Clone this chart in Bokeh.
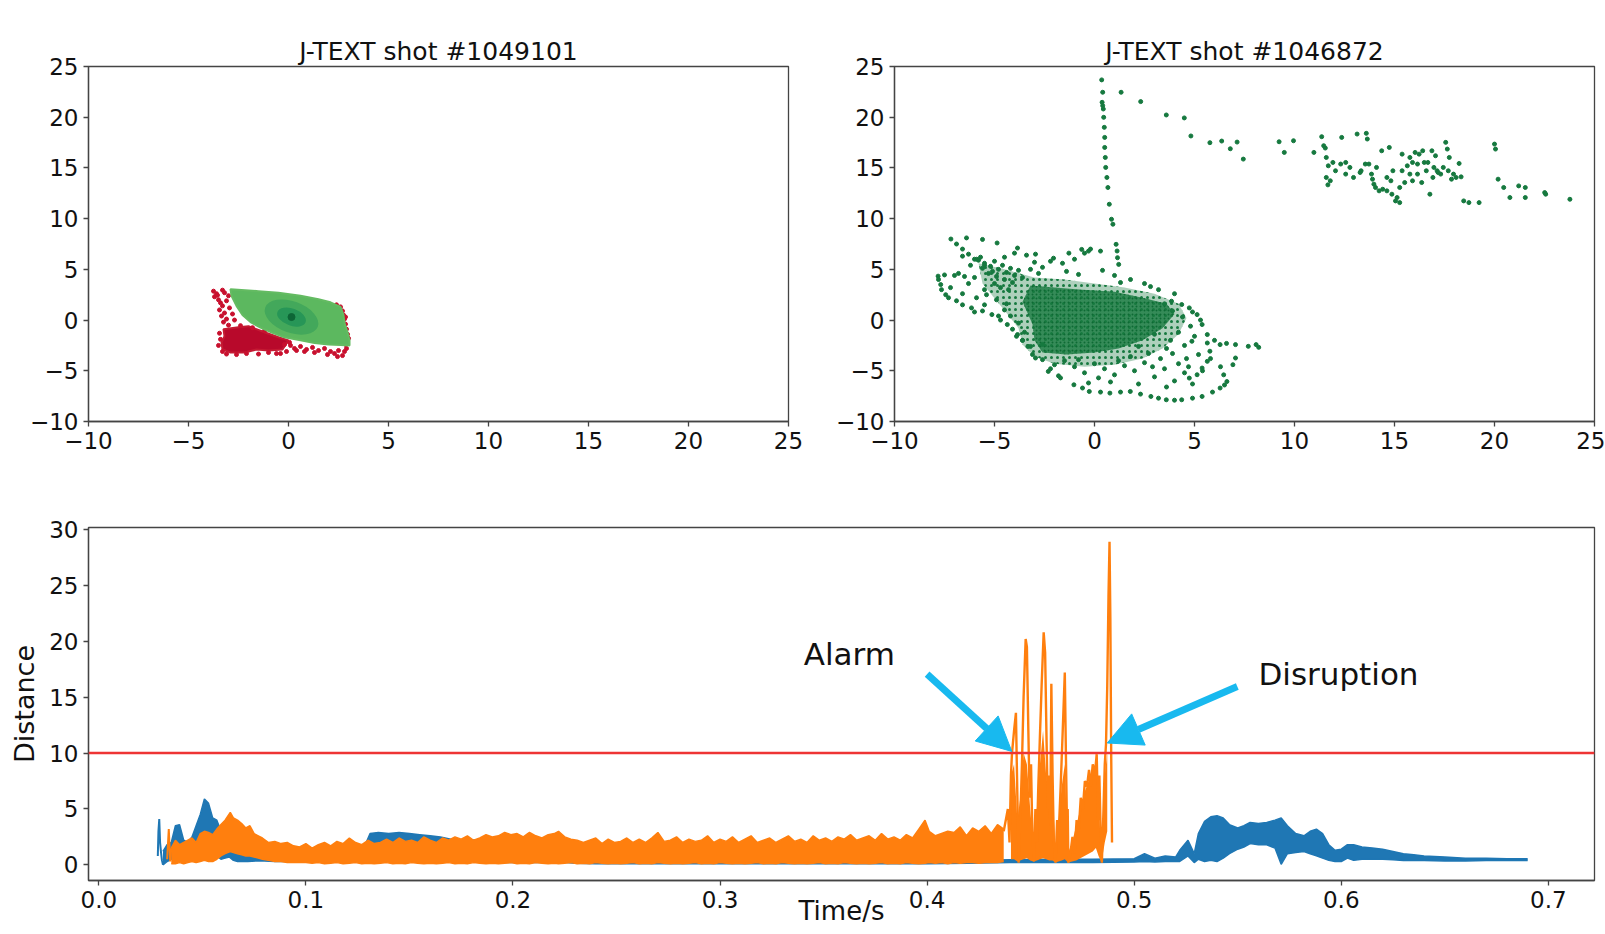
from bokeh.plotting import figure
from bokeh.layouts import column, row
from bokeh.models import Range1d, Label, Arrow, NormalHead, Span, NumeralTickFormatter
from bokeh.embed import file_html
from bokeh.resources import INLINE

FONT = "DejaVu Sans"
AX = "#444444"
BLUE = "#1f77b4"
ORANGE = "#ff7f0e"
RED = "#ee3434"
CYAN = "#18b9ef"
DGREEN = "#16793f"

# ---------------- top-left: shot #1049101 ----------------
red_blob_x = [-3.25, -2.5, -2.0, -1.2, -0.5, 0.0, -0.3, -1.0, -1.6, -2.2, -2.9, -3.3, -3.35, -3.2]
red_blob_y = [-0.9, -0.7, -0.6, -1.2, -1.7, -2.0, -2.9, -3.0, -2.9, -3.2, -3.2, -2.9, -2.2, -1.6]
red_pts_x = [-3.75, -3.6, -3.7, -3.5, -3.4, -3.3, -3.45, -3.2, -3.35, -3.1, -3.25, -3.0, -3.2, -3.3,
             -3.55, -3.0, -3.1, -2.95, -2.8, -2.7,
             0.1, 0.3, 0.6, 0.9, 1.2, 1.5, 1.8, 2.1, 2.3, 2.5, 2.7, 2.8, 2.9, 2.45, 1.95, 1.3, 0.8, 0.4, 2.85, 2.95,
             2.4, 2.6, 2.7, 2.75, 2.8, 2.85, 2.9, 2.95, 3.0, 2.5, 2.85, -0.4, -0.1,
             -3.45, -3.4, -3.5, -3.3, -3.1, -2.6, -2.1, -1.5, -1.0, -0.6, -0.2, -2.4, -1.8, -1.2, 0.05]
red_pts_y = [2.85, 2.6, 2.3, 2.0, 1.7, 1.4, 1.0, 0.7, 0.4, 0.1, -0.2, -0.5, 2.7, 2.95,
             2.45, 2.4, 1.9, 1.2, 0.6, 0.0,
             -2.5, -2.8, -2.6, -2.9, -2.7, -3.0, -2.8, -3.1, -3.3, -3.0, -3.5, -3.1, -2.8, -3.6, -3.4, -3.2, -3.1, -3.0, -2.4, -2.0,
             1.5, 1.3, 0.9, 0.5, 0.1, -0.4, -0.9, -1.4, -1.8, 1.1, 0.3, -3.3, -3.1,
             -1.3, -1.9, -2.5, -3.1, -3.35, -3.4, -3.3, -3.35, -3.2, -3.3, -2.4, -0.55, -0.75, -1.05, -2.2]
green_x = [-2.9, -1.5, -0.5, 0.6, 1.5, 2.1, 2.6, 2.75, 2.8, 2.95, 3.05, 3.05, 2.6, 2.0, 1.3, 0.6,
           -0.2, -0.8, -1.4, -1.9, -2.3, -2.6, -2.85]
green_y = [3.05, 2.85, 2.7, 2.4, 2.05, 1.75, 1.3, 0.5, -0.3, -1.2, -2.0, -2.5, -2.45, -2.4, -2.25, -2.0,
           -1.7, -1.25, -0.75, -0.2, 0.5, 1.4, 2.4]
core_c = [0.15, 0.3]

# ---------------- top-right: shot #1046872 ----------------
spike_x = [0.36, 0.41, 0.38, 0.41, 0.44, 0.46, 0.49, 0.51, 0.51, 0.54, 0.56, 0.62, 0.67, 0.74, 0.85, 0.92, 1.08, 1.13, 1.15, 1.21]
spike_y = [23.68, 22.46, 21.47, 21.14, 20.81, 19.99, 19.00, 18.01, 17.02, 16.03, 15.05, 14.06, 13.07, 11.42, 9.94, 9.45, 7.47, 6.81, 6.15, 5.49]
path_x = [1.33, 2.31, 3.59, 4.49, 4.82, 5.77, 6.36, 6.79, 7.13, 7.44, 9.23, 9.49, 9.95]
path_y = [22.46, 21.54, 20.22, 19.93, 18.15, 17.49, 17.65, 16.89, 17.55, 15.87, 17.58, 16.53, 17.68]
far_x = [10.97, 11.36, 11.46, 11.54, 11.59, 11.69, 11.59, 11.67, 11.79, 11.92, 12.05, 12.36, 12.56, 12.77, 12.95,
         13.13, 13.28, 13.33, 13.59, 13.64, 13.72, 13.85, 13.97, 14.05, 14.23, 14.36, 14.41, 14.62, 14.74, 14.82,
         14.92, 15.05, 15.13, 15.26, 15.38, 15.51, 15.64, 15.77, 15.90, 16.03, 16.15, 16.23, 16.36, 16.49, 16.59,
         16.67, 16.77, 16.87, 16.97, 17.13, 17.18, 17.44, 17.56, 17.64, 17.74, 17.85, 17.95, 18.08, 18.23, 18.33,
         18.46, 18.72, 19.23, 20.00, 20.05, 20.18, 20.46, 20.77, 21.21, 21.54, 21.54, 22.51, 22.56, 23.77, 16.92,
         17.31, 15.38, 15.77, 14.62, 14.10, 12.56, 12.31, 13.54, 14.87, 13.90, 16.15, 16.41, 17.69, 17.05, 15.90, 15.26]
far_y = [16.53, 18.08, 17.19, 16.96, 16.03, 15.21, 14.06, 13.33, 13.73, 15.54, 14.72, 18.01, 15.54, 15.05, 14.06,
         18.34, 14.55, 14.72, 18.41, 17.85, 15.38, 14.39, 13.40, 13.07, 12.74, 16.69, 12.90, 12.74, 17.02, 13.73,
         14.72, 11.75, 12.08, 11.58, 16.36, 13.56, 15.21, 16.03, 15.54, 16.53, 15.38, 16.36, 13.56, 15.54, 14.72,
         15.54, 12.41, 16.69, 15.05, 14.72, 14.55, 15.05, 17.52, 16.86, 16.03, 13.89, 14.39, 14.06, 15.44, 14.12,
         11.75, 11.58, 11.58, 17.35, 16.86, 13.89, 13.07, 12.08, 13.23, 13.07, 12.08, 12.57, 12.41, 11.91, 14.06,
         14.39, 14.72, 14.39, 14.06, 15.05, 14.39, 15.38, 15.38, 12.41, 13.89, 14.39, 16.69, 14.72, 16.20, 13.73, 13.07]
loop_x = [-7.82, -7.5, -7.0, -6.5, -6.0, -7.69, -7.44, -6.9, -6.15, -5.13, -4.36, -3.85, -3.33, -2.95,
          -7.18, -6.9, -6.6, -6.3, -5.9, -5.5, -5.1, -6.4, -5.6, -4.87, -3.85, -2.95, -2.05, -1.28, -0.64, -0.3,
          -2.31, -1.03, -0.26, 0.77, 1.79, 2.82, 3.59, 4.36, 5.38, 6.28, 6.62, 6.46, 6.92, 7.05,
          4.87, 5.64, 6.28, 7.05, 7.69, 8.08, 8.21,
          3.85, 4.36, 4.74, 5.13, 5.38, 5.64, 5.77, 5.64, 5.38, 5.13, 4.74,
          -7.8, -7.65, -7.3, -6.6, -5.6, -4.7, -4.1, -3.6, -1.7, -0.6, 0.3, 1.3, 2.3, 3.2, 4.0, 4.9, 5.9, 6.5]
loop_y = [4.33, 4.45, 4.4, 4.3, 4.2, 3.5, 2.5, 1.9, 1.2, 0.54, -0.44, -1.43, -2.6, -3.74,
          7.99, 7.5, 7.0, 6.5, 6.0, 5.4, 4.8, 8.1, 7.95, 7.6, 7.1, 6.5, 6.1, 6.6, 6.97, 6.8,
          -5.06, -6.38, -7.04, -7.2, -7.04, -7.53, -7.86, -7.86, -7.53, -6.7, -6.06, -5.4, -4.4, -3.74,
          -2.09, -2.26, -2.42, -2.42, -2.59, -2.42, -2.69,
          1.86, 1.53, 1.2, 0.54, -0.44, -1.43, -3.07, -4.07, -4.73, -5.39, -5.72,
          4.0, 3.0, 2.2, 1.5, 0.9, 0.0, -0.9, -2.0, -5.7, -6.7, -7.1, -7.1, -7.3, -7.7, -7.9, -7.7, -7.1, -6.4]
mid_x = [-5.8, -5.5, -5.2, -5.0, -4.8, -4.6, -4.4, -4.2, -4.0, -3.8, -3.6, -5.6, -5.3, -4.9, -4.5, -4.1, -5.0,
         -4.7, -4.3, -5.5, -5.9, -5.4, -4.9, -4.4, -6.2, -6.0, -5.7, -4.5, -4.0, -3.4, -3.0, -2.6, -2.2, -1.6,
         -1.0, -0.5, -0.2, 0.3, -1.4, -0.8, -2.8, -3.2, -6.6, -6.8, -6.3, -7.2, -6.6,
         -2.6, -2.0, -1.5, -1.0, -0.5, 0.0, 0.5, 1.0, 1.5, 2.0, 2.5, 3.0, 3.5, 4.0, 4.5, 4.2, 3.3, 2.7, 1.8,
         -0.8, -1.8, -0.3, 0.8, 2.2, 3.6, 4.9, 5.4, 1.2, -2.2, 0.2, 2.9, 3.9,
         3.5, 3.9, 4.4, 4.8, 4.2, 3.8, 4.5, 5.0, 5.2, 4.6, 3.6, 4.9, 5.3, 4.0, 3.2, 2.5, 1.8, 1.0, 0.4, 2.8,
         1.3, 3.0, 2.2, 4.7, 6.0, 6.6, 5.8, 6.3,
         -3.5, -3.8, -4.2, -3.6, -3.2, -4.5, -4.8, -5.5, -6.0, -3.9, -2.6, -3.1]
mid_y = [5.9, 5.6, 5.3, 5.8, 5.0, 5.4, 4.7, 5.1, 4.4, 4.9, 4.2, 5.1, 4.6, 4.3, 4.0, 3.7, 3.6,
         3.2, 3.0, 3.0, 2.2, 2.5, 2.0, 1.6, 5.4, 6.0, 6.2, 6.2, 6.6, 6.4, 5.7, 5.2, 5.8, 5.6,
         6.0, 6.6, 7.0, 6.8, 4.8, 4.5, 4.6, 5.0, 6.3, 4.6, 3.6, 3.2, 2.6,
         -3.9, -4.4, -4.0, -4.6, -5.2, -4.3, -4.8, -5.4, -4.5, -5.0, -4.2, -5.6, -4.8, -6.0, -5.2, -4.3, -3.8, -3.3, -3.6,
         -3.9, -5.5, -6.2, -6.1, -6.3, -6.6, -6.3, -5.0, -4.0, -4.8, -5.7, -4.6, -3.3,
         1.6, 0.9, 0.3, -0.6, -1.2, -2.0, -2.5, -1.6, -3.4, -3.8, -2.8, 0.8, 0.0, 2.6, 3.0, 3.6, 4.0, 4.4, 4.9, 3.3,
         3.7, -1.4, -2.6, -4.6, -2.0, -2.3, -3.8, -4.6,
         -1.2, -0.3, 0.4, -2.0, -2.6, 1.0, 0.4, 1.5, 0.8, -1.6, -2.4, -3.4]
core_out_x = [-5.8, -4.5, -3.0, -1.5, 0.0, 1.5, 3.0, 4.2, 4.6, 4.2, 3.4, 2.4, 1.0, -0.5, -2.0, -3.0, -3.6, -3.8, -4.6, -5.6]
core_out_y = [5.6, 5.0, 4.2, 4.0, 3.6, 3.2, 2.6, 1.6, 0.2, -1.4, -2.8, -3.8, -4.4, -4.6, -4.3, -3.6, -2.4, -0.8, 1.2, 3.6]
core_in_x = [-3.2, -2.0, -0.6, 1.0, 2.4, 3.6, 4.0, 3.4, 2.4, 1.2, 0.0, -1.4, -2.6, -3.0, -3.1, -3.6]
core_in_y = [3.4, 3.2, 3.0, 2.8, 2.2, 1.6, 0.6, -0.8, -2.0, -2.8, -3.2, -3.4, -3.2, -2.0, -0.4, 1.8]

# ---------------- bottom: distance vs time ----------------
blue_start_t = [0.0285, 0.0288, 0.0292, 0.0296, 0.0300, 0.0305, 0.0310]
blue_start_y = [0.8, 3.0, 4.1, 2.0, 1.2, 0.4, 0.0]
blue_t = [0.031, 0.033, 0.035, 0.037, 0.039, 0.041, 0.043, 0.045, 0.047, 0.049,
          0.051, 0.053, 0.055, 0.057, 0.059, 0.061, 0.063, 0.065, 0.067, 0.069,
          0.072, 0.076, 0.080, 0.085, 0.090, 0.095, 0.100, 0.105, 0.110, 0.115,
          0.120, 0.125, 0.128, 0.131, 0.135, 0.140, 0.145, 0.150, 0.155, 0.160,
          0.165, 0.170, 0.175, 0.180, 0.185, 0.190, 0.194, 0.197, 0.200, 0.205,
          0.210, 0.215, 0.220, 0.223, 0.226, 0.230, 0.240, 0.260, 0.280, 0.300,
          0.320, 0.340, 0.360, 0.380, 0.400, 0.420, 0.440, 0.460, 0.480, 0.500,
          0.505, 0.510, 0.515, 0.520, 0.522, 0.526, 0.529, 0.531, 0.534, 0.537,
          0.540, 0.543, 0.546, 0.550, 0.553, 0.556, 0.560, 0.564, 0.568, 0.571,
          0.574, 0.578, 0.582, 0.585, 0.588, 0.591, 0.594, 0.597, 0.600, 0.603,
          0.606, 0.610, 0.615, 0.620, 0.625, 0.630, 0.635, 0.640, 0.650, 0.660,
          0.670, 0.680, 0.690]
blue_hi = [1.2, 1.8, 2.0, 3.5, 3.6, 2.2, 2.0, 2.5, 3.5, 4.5,
           5.9, 5.5, 4.2, 4.0, 3.0, 2.2, 1.6, 1.5, 1.9, 1.4,
           1.0, 0.8, 0.75, 0.7, 0.65, 0.7, 0.6, 0.65, 0.6, 0.6,
           0.6, 0.7, 1.5, 2.8, 2.9, 2.8, 2.9, 2.8, 2.7, 2.6,
           2.5, 2.3, 2.1, 2.2, 2.3, 2.2, 1.5, 1.0, 0.9, 1.3,
           1.0, 0.8, 1.4, 1.7, 1.0, 0.6, 0.5, 0.5, 0.45, 0.45,
           0.45, 0.4, 0.4, 0.45, 0.45, 0.4, 0.45, 0.5, 0.5, 0.55,
           1.0, 0.6, 0.8, 0.7, 1.3, 2.2, 1.0, 2.8, 3.9, 4.3,
           4.4, 4.2, 3.6, 3.3, 3.5, 3.8, 3.7, 3.8, 4.0, 4.2,
           3.5, 2.8, 2.6, 3.0, 3.2, 2.8, 1.8, 1.3, 1.4, 1.8,
           1.8, 1.6, 1.5, 1.4, 1.2, 1.0, 0.9, 0.8, 0.7, 0.6,
           0.6, 0.55, 0.55]
blue_lo = [0.0, 0.3, 0.5, 0.8, 1.0, 0.8, 0.9, 1.0, 1.2, 1.4,
           1.5, 1.4, 1.0, 0.8, 0.5, 0.6, 0.7, 0.4, 0.3, 0.3,
           0.3, 0.35, 0.35, 0.3, 0.3, 0.3, 0.3, 0.3, 0.3, 0.3,
           0.3, 0.3, 0.5, 1.0, 1.2, 1.2, 1.1, 1.1, 1.0, 1.0,
           1.0, 0.9, 0.9, 0.8, 0.8, 0.7, 0.4, 0.2, 0.2, 0.2,
           0.2, 0.2, 0.2, 0.3, 0.2, 0.15, 0.1, 0.1, 0.1, 0.1,
           0.1, 0.1, 0.1, 0.1, 0.1, 0.15, 0.2, 0.2, 0.2, 0.25,
           0.3, 0.25, 0.3, 0.3, 0.3, 0.8, 0.2, 0.5, 0.3, 0.4,
           0.3, 0.6, 1.0, 1.4, 1.6, 1.9, 1.8, 1.8, 1.5, 0.05,
           1.0, 1.1, 1.2, 1.0, 0.8, 0.6, 0.4, 0.3, 0.3, 0.6,
           0.4, 0.5, 0.5, 0.5, 0.45, 0.4, 0.4, 0.4, 0.35, 0.35,
           0.4, 0.4, 0.4]

orange_start_t = [0.0330, 0.0338, 0.0345, 0.0350]
orange_start_y = [0.5, 3.2, 0.3, 1.5]
orange_t = [0.035, 0.037, 0.039, 0.041, 0.043, 0.045, 0.047, 0.049, 0.051, 0.053,
            0.055, 0.057, 0.059, 0.061, 0.0635, 0.065, 0.067, 0.069, 0.071, 0.073,
            0.075, 0.077, 0.079, 0.082, 0.085, 0.088, 0.091, 0.094, 0.097, 0.100,
            0.103, 0.106, 0.109, 0.112, 0.115, 0.118, 0.121, 0.124, 0.127, 0.130,
            0.133, 0.136, 0.139, 0.142, 0.145, 0.148, 0.151, 0.154, 0.157, 0.160,
            0.163, 0.166, 0.169, 0.172, 0.175, 0.178, 0.181, 0.184, 0.187, 0.190,
            0.193, 0.196, 0.199, 0.202, 0.205, 0.208, 0.211, 0.214, 0.217, 0.220,
            0.222, 0.225, 0.228, 0.231, 0.234, 0.237, 0.240, 0.243, 0.246, 0.249,
            0.252, 0.255, 0.258, 0.261, 0.264, 0.267, 0.270, 0.273, 0.276, 0.279,
            0.282, 0.285, 0.288, 0.291, 0.294, 0.297, 0.300, 0.303, 0.306, 0.309,
            0.312, 0.315, 0.318, 0.321, 0.324, 0.327, 0.330, 0.333, 0.336, 0.339,
            0.342, 0.345, 0.348, 0.351, 0.354, 0.357, 0.360, 0.363, 0.366, 0.369,
            0.372, 0.375, 0.378, 0.381, 0.384, 0.387, 0.390, 0.393, 0.396, 0.399,
            0.401, 0.404, 0.407, 0.410, 0.413, 0.416, 0.419, 0.422, 0.425, 0.428,
            0.431, 0.434, 0.437]
orange_hi = [1.5, 2.2, 1.8, 2.0, 2.2, 2.4, 2.0, 2.8, 3.0, 2.9,
             2.7, 3.2, 3.6, 4.0, 4.7, 4.2, 4.0, 3.7, 3.3, 3.5,
             2.8, 2.6, 2.4, 2.0, 2.1, 1.9, 2.0, 1.7, 1.6, 1.9,
             1.5, 1.8, 2.0, 1.7, 2.1, 1.9, 2.4, 2.0, 1.8, 2.2,
             1.9, 2.0, 2.3, 2.0, 2.4, 2.1, 2.2, 2.0, 2.5, 2.2,
             2.0, 2.4, 2.2, 2.5, 2.3, 2.6, 2.2, 2.4, 2.7, 2.5,
             2.6, 2.9, 2.7, 2.8, 2.5, 2.9, 2.6, 2.4, 2.7, 2.8,
             3.0, 2.5, 2.3, 2.2, 2.0, 2.2, 2.4, 1.9, 2.3, 2.0,
             2.1, 2.4, 2.0, 2.3, 2.0, 2.4, 2.9, 2.1, 2.2, 2.5,
             2.0, 2.3, 2.1, 2.2, 2.6, 2.0, 2.3, 2.1, 2.5, 2.0,
             2.3, 2.6, 2.0, 2.2, 2.4, 2.0, 2.3, 2.6, 2.1, 2.3,
             2.0, 2.6, 2.2, 2.4, 2.1, 2.5, 2.3, 2.7, 2.2, 2.4,
             2.6, 2.2, 2.8, 2.3, 2.5, 2.2, 2.7, 2.4, 3.2, 4.0,
             3.0, 2.6, 2.8, 3.0, 2.9, 3.4, 2.6, 3.3, 3.0, 3.5,
             2.8, 3.6, 3.2]
orange_lo = [0.1, 0.1, 0.2, 0.1, 0.2, 0.3, 0.2, 0.3, 0.4, 0.3,
             0.3, 0.5, 0.8, 1.0, 1.2, 1.1, 1.0, 0.9, 0.8, 0.8,
             0.7, 0.6, 0.5, 0.4, 0.3, 0.3, 0.2, 0.2, 0.2, 0.2,
             0.15, 0.2, 0.1, 0.15, 0.2, 0.1, 0.15, 0.2, 0.1, 0.15,
             0.1, 0.15, 0.2, 0.1, 0.15, 0.1, 0.2, 0.15, 0.1, 0.15,
             0.1, 0.15, 0.2, 0.1, 0.15, 0.1, 0.2, 0.15, 0.1, 0.15,
             0.1, 0.15, 0.2, 0.1, 0.15, 0.1, 0.2, 0.15, 0.1, 0.15,
             0.1, 0.15, 0.2, 0.1, 0.15, 0.1, 0.2, 0.15, 0.1, 0.15,
             0.1, 0.15, 0.2, 0.1, 0.15, 0.1, 0.2, 0.15, 0.1, 0.15,
             0.1, 0.15, 0.2, 0.1, 0.15, 0.1, 0.2, 0.15, 0.1, 0.15,
             0.1, 0.15, 0.2, 0.1, 0.15, 0.1, 0.2, 0.15, 0.1, 0.15,
             0.1, 0.15, 0.2, 0.1, 0.15, 0.1, 0.2, 0.15, 0.1, 0.15,
             0.1, 0.15, 0.2, 0.1, 0.15, 0.1, 0.2, 0.15, 0.1, 0.15,
             0.2, 0.15, 0.2, 0.1, 0.2, 0.15, 0.2, 0.2, 0.15, 0.2,
             0.2, 0.2, 0.3]
burst_t = [0.4370, 0.4390, 0.4398, 0.4405, 0.4410, 0.4420, 0.4429, 0.4436, 0.4442, 0.4450,
           0.4458, 0.4466, 0.4476, 0.4482, 0.4489, 0.4495, 0.4502, 0.4508, 0.4516, 0.4523,
           0.4530, 0.4537, 0.4544, 0.4553, 0.4563, 0.4570, 0.4577, 0.4583, 0.4590, 0.4595,
           0.4600, 0.4606, 0.4612, 0.4620, 0.4628, 0.4635, 0.4645, 0.4655, 0.4665, 0.4671,
           0.4676, 0.4679, 0.4682, 0.4692, 0.4702, 0.4712, 0.4722, 0.4732, 0.4742, 0.4752,
           0.4762, 0.4772, 0.4782, 0.4790, 0.4800, 0.4810, 0.4819, 0.4826, 0.4832, 0.4838,
           0.4844, 0.4852, 0.4858, 0.4864, 0.4870, 0.4876, 0.4881, 0.4885, 0.4889, 0.4893]
burst_y = [3.0, 5.0, 2.0, 8.0, 10.0, 12.0, 13.6, 6.0, 0.2, 4.0,
           9.0, 15.0, 20.2, 19.5, 12.0, 6.0, 9.0, 3.0, 0.3, 5.0,
           2.0, 7.0, 11.0, 16.0, 20.8, 19.0, 11.0, 5.0, 8.0, 3.5,
           16.2, 8.0, 2.0, 0.2, 4.0, 2.5, 7.0, 12.0, 17.2, 9.0,
           3.0, 5.0, 0.2, 1.0, 2.5, 1.0, 4.0, 3.0, 6.0, 5.0,
           7.5, 7.0, 8.5, 7.0, 9.0, 8.0, 9.9, 4.0, 8.0, 3.0,
           0.2, 5.0, 9.0, 10.8, 16.0, 24.0, 28.9, 22.0, 10.0, 2.0]
# filled body of the burst (dense oscillation between the spikes)
bfill_t = [0.4405, 0.4420, 0.4436, 0.4450, 0.4466, 0.4482, 0.4498, 0.4514, 0.4530, 0.4545,
           0.4560, 0.4575, 0.4590, 0.4605, 0.4620, 0.4635, 0.4650, 0.4665, 0.4680, 0.4700,
           0.4720, 0.4740, 0.4760, 0.4780, 0.4800, 0.4815, 0.4828, 0.4842, 0.4858, 0.4870]
bfill_hi = [8.0, 9.0, 4.0, 6.0, 10.0, 9.0, 5.0, 1.5, 5.0, 9.0,
            12.0, 8.0, 6.0, 7.0, 1.5, 4.0, 7.0, 9.0, 1.0, 2.0,
            3.5, 5.0, 6.5, 7.5, 8.5, 9.2, 6.0, 0.5, 8.0, 10.0]
bfill_lo = [0.5, 0.5, 0.3, 0.4, 0.5, 0.6, 0.4, 0.3, 0.4, 0.5,
            0.6, 0.5, 0.4, 0.4, 0.2, 0.3, 0.4, 0.5, 0.2, 0.3,
            0.4, 0.6, 0.8, 1.0, 1.2, 1.5, 0.8, 0.2, 2.0, 3.0]
threshold = 10
alarm_tail = (0.4000, 17.07)
alarm_tip = (0.4409, 10.15)
disr_tail = (0.5498, 15.95)
disr_tip = (0.4870, 10.9)
alarm_text = (0.3404, 18.87)
disr_text = (0.5600, 17.10)

top_ticks = [-10, -5, 0, 5, 10, 15, 20, 25]
top_over = {-10: "\u221210", -5: "\u22125"}
time_ticks = [0.0, 0.1, 0.2, 0.3, 0.4, 0.5, 0.6, 0.7]
dist_ticks = [0, 5, 10, 15, 20, 25, 30]


def style(p, xt, yt, xo=None, yo=None):
    for ax in (p.xaxis[0], p.yaxis[0]):
        ax.major_tick_in = 0
        ax.major_tick_out = 5
        ax.minor_tick_in = 0
        ax.minor_tick_out = 0
        ax.axis_line_color = AX
        ax.axis_line_width = 1.3
        ax.major_tick_line_color = AX
        ax.major_tick_line_width = 1.3
        ax.major_label_text_font = FONT
        ax.major_label_text_font_size = "23px"
        ax.major_label_text_color = "#111111"
        ax.major_label_standoff = 5
    p.xaxis.ticker = xt
    p.yaxis.ticker = yt
    if xo:
        p.xaxis.major_label_overrides = xo
    if yo:
        p.yaxis.major_label_overrides = yo
    p.xgrid.visible = False
    p.ygrid.visible = False
    p.outline_line_color = AX
    p.outline_line_width = 1.3
    p.background_fill_color = "white"
    p.border_fill_color = "white"
    if p.title is not None and p.title.text:
        p.title.text_font = FONT
        p.title.text_font_size = "25px"
        p.title.text_font_style = "normal"
        p.title.text_color = "#111111"
        p.title.align = "center"
        p.title.standoff = 2


p1 = figure(width=814, height=470, x_range=Range1d(-10, 25), y_range=Range1d(-10, 25),
            output_backend="svg", toolbar_location=None, title="J-TEXT shot #1049101",
            min_border_left=88, min_border_right=26, min_border_top=66, min_border_bottom=49)
style(p1, top_ticks, top_ticks, top_over, top_over)
p1.patch(red_blob_x, red_blob_y, fill_color="#b8092b", line_color="#c41a33", line_width=2)
p1.scatter(red_pts_x, red_pts_y, size=4, color="#c8102e")
p1.patch(green_x, green_y, fill_color="#5cb85f", line_color="#64bb62", line_width=2)
p1.ellipse(x=[core_c[0]], y=[core_c[1]], width=[2.8], height=[3.1], angle=-0.35,
           fill_color="#43a85b", line_color=None)
p1.ellipse(x=[core_c[0]], y=[core_c[1]], width=[1.5], height=[1.7], angle=-0.35,
           fill_color="#279657", line_color=None)
p1.scatter([core_c[0]], [core_c[1]], size=7, color="#0d6636")

p2 = figure(width=791, height=470, x_range=Range1d(-10, 25), y_range=Range1d(-10, 25),
            output_backend="svg", toolbar_location=None, title="J-TEXT shot #1046872",
            min_border_left=80, min_border_right=11, min_border_top=66, min_border_bottom=49)
style(p2, top_ticks, top_ticks, top_over, top_over)
p2.patch(core_out_x, core_out_y, fill_color=DGREEN, fill_alpha=0.35, line_color=None,
         hatch_pattern="dot", hatch_color=DGREEN, hatch_scale=6, hatch_weight=3)
p2.patch(core_in_x, core_in_y, fill_color=DGREEN, fill_alpha=0.8, line_color=None,
         hatch_pattern="dot", hatch_color="#0e6a34", hatch_scale=4, hatch_weight=2)
for xs, ys in ((spike_x, spike_y), (path_x, path_y), (far_x, far_y), (loop_x, loop_y), (mid_x, mid_y)):
    p2.scatter(xs, ys, size=4, color=DGREEN)

p3 = figure(width=1605, height=464, x_range=Range1d(-0.00497, 0.7223), y_range=Range1d(-1.40, 30.18),
            output_backend="svg", toolbar_location=None,
            min_border_left=88, min_border_right=11, min_border_top=57, min_border_bottom=54)
style(p3, time_ticks, dist_ticks)
p3.xaxis.formatter = NumeralTickFormatter(format="0.0")
p3.xaxis.axis_label = "Time/s"
p3.xaxis.axis_label_text_font = FONT
p3.xaxis.axis_label_text_font_size = "26px"
p3.xaxis.axis_label_text_font_style = "normal"
p3.xaxis.axis_label_text_color = "#111111"
p3.xaxis.axis_label_standoff = -15
p3.yaxis.axis_label = "Distance"
p3.yaxis.axis_label_text_font = FONT
p3.yaxis.axis_label_text_font_size = "27px"
p3.yaxis.axis_label_text_font_style = "normal"
p3.yaxis.axis_label_text_color = "#111111"
p3.yaxis.axis_label_standoff = 6

p3.varea(x=blue_t, y1=blue_lo, y2=blue_hi, fill_color=BLUE)
p3.line(blue_t, blue_hi, line_color=BLUE, line_width=1.5)
p3.line(blue_t, blue_lo, line_color=BLUE, line_width=1.5)
p3.line(blue_start_t, blue_start_y, line_color=BLUE, line_width=2)
p3.varea(x=orange_t, y1=orange_lo, y2=orange_hi, fill_color=ORANGE)
p3.line(orange_t, orange_hi, line_color=ORANGE, line_width=1.5)
p3.line(orange_t, orange_lo, line_color=ORANGE, line_width=1.5)
p3.line(orange_start_t, orange_start_y, line_color=ORANGE, line_width=2)
p3.varea(x=bfill_t, y1=bfill_lo, y2=bfill_hi, fill_color=ORANGE)
p3.line(burst_t, burst_y, line_color=ORANGE, line_width=2.4)

p3.add_layout(Span(location=threshold, dimension="width", line_color=RED, line_width=2.4))

for tail, tip in ((alarm_tail, alarm_tip), (disr_tail, disr_tip)):
    p3.add_layout(Arrow(end=NormalHead(size=34, fill_color=CYAN, line_color=CYAN),
                        x_start=tail[0], y_start=tail[1], x_end=tip[0], y_end=tip[1],
                        line_color=CYAN, line_width=7))
p3.add_layout(Label(x=alarm_text[0], y=alarm_text[1], text="Alarm", text_font=FONT,
                    text_font_size="31px", text_baseline="middle", text_align="left", text_color="#111111"))
p3.add_layout(Label(x=disr_text[0], y=disr_text[1], text="Disruption", text_font=FONT,
                    text_font_size="31px", text_baseline="middle", text_align="left", text_color="#111111"))

layout = column(row(p1, p2, spacing=0), p3, spacing=0)
open("out.html", "w").write(file_html(layout, INLINE))
